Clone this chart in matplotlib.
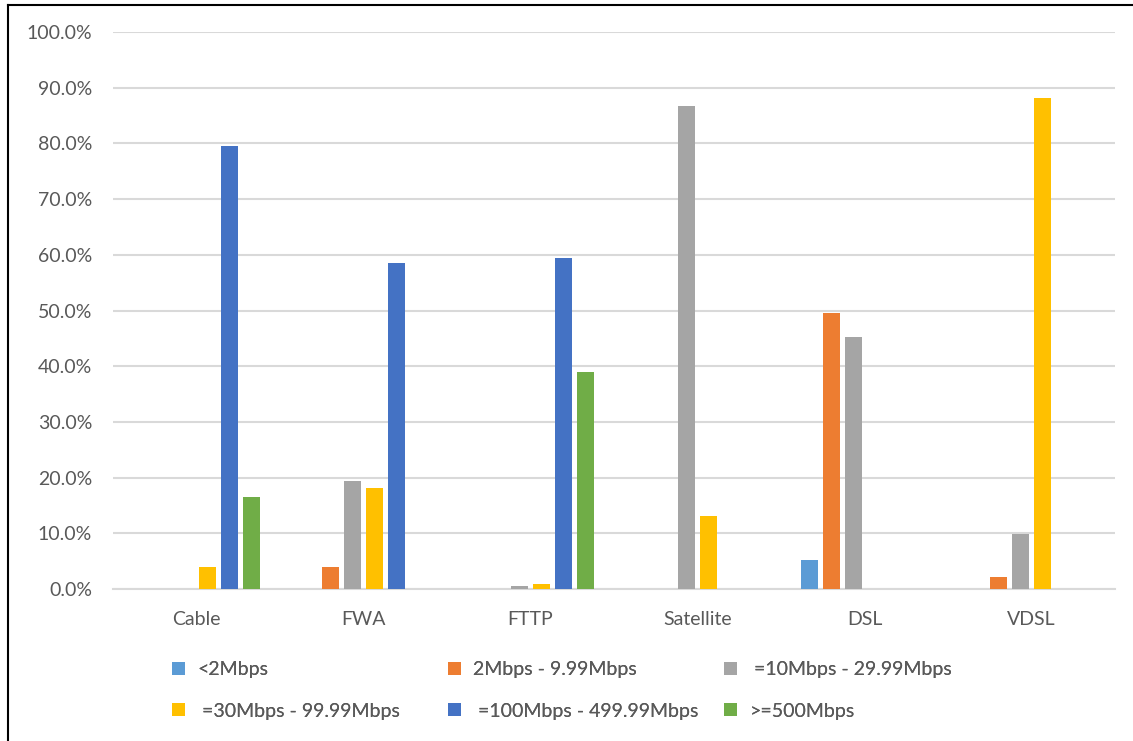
import numpy as np
import matplotlib.pyplot as plt
from matplotlib.lines import Line2D
from matplotlib.patches import Patch

plt.rcParams['font.family'] = ['Lato', 'DejaVu Sans']

technologies = ["Cable", "FWA", "FTTP", "Satellite", "DSL", "VDSL"]
speed_bands = ["<2Mbps", "2Mbps - 9.99Mbps", " =10Mbps - 29.99Mbps",
               " =30Mbps - 99.99Mbps", " =100Mbps - 499.99Mbps", ">=500Mbps"]
band_colors = ["#5B9BD5", "#ED7D31", "#A5A5A5", "#FFC000", "#4472C4", "#70AD47"]

# share of connections per speed band (fractions), one list per band
under_2 = [0.0, 0.0, 0.0, 0.0, 0.052, 0.0]
from_2 = [0.0, 0.039, 0.0, 0.0, 0.496, 0.021]
from_10 = [0.0, 0.194, 0.005, 0.868, 0.452, 0.099]
from_30 = [0.040, 0.181, 0.009, 0.131, 0.0, 0.881]
from_100 = [0.795, 0.585, 0.594, 0.0, 0.0, 0.0]
over_500 = [0.165, 0.0, 0.390, 0.0, 0.0, 0.0]
shares = [under_2, from_2, from_10, from_30, from_100, over_500]

text_color = "#595959"
grid_color = "#D9D9D9"
fs = 14

fig = plt.figure(figsize=(11.33, 7.41), dpi=100)
ax = fig.add_axes([113 / 1133, 152 / 741, 1002 / 1133, 557 / 741])

x = np.arange(len(technologies))
slot = 0.1317
for i, (vals, col, lab) in enumerate(zip(shares, band_colors, speed_bands)):
    ax.bar(x + (i - 2.5) * slot, vals, width=0.104, color=col,
           linewidth=0, label=lab, zorder=3)

ax.set_xlim(-0.5, len(technologies) - 0.5)
ax.set_ylim(0, 1.0)
ax.set_yticks(np.arange(0, 1.01, 0.1))
ax.set_yticklabels([f"{v * 100:.1f}%" for v in np.arange(0, 1.01, 0.1)])
ax.set_xticks(x)
ax.set_xticklabels(technologies)
ax.tick_params(axis='y', length=0, pad=15, labelsize=fs, labelcolor=text_color)
ax.tick_params(axis='x', length=0, pad=16, labelsize=fs, labelcolor=text_color)
ax.grid(axis='y', color=grid_color, linewidth=1.5, zorder=0)
for side in ["left", "right", "top"]:
    ax.spines[side].set_visible(False)
ax.spines["bottom"].set_color(grid_color)
ax.spines["bottom"].set_linewidth(1.5)

# legend laid out in three evenly spaced columns, filled row by row
handles = [Patch(facecolor=c, linewidth=0) for c in band_colors]
col_x = [172, 448, 724]
for c in range(3):
    idx = [c, c + 3]
    leg = fig.legend([handles[k] for k in idx], [speed_bands[k] for k in idx],
                     loc="upper left", bbox_to_anchor=(col_x[c] / 1133, 1 - 661 / 741),
                     frameon=False, fontsize=fs, labelcolor=text_color,
                     handlelength=0.65, handleheight=0.65, handletextpad=0.65,
                     labelspacing=1.27, borderaxespad=0, borderpad=0)
    fig.add_artist(leg)

# frame lines along the top and left edges
fig.add_artist(Line2D([8 / 1133, 1], [1 - 5 / 741, 1 - 5 / 741],
                      transform=fig.transFigure, color="black", linewidth=1.5))
fig.add_artist(Line2D([8 / 1133, 8 / 1133], [0, 1 - 5 / 741],
                      transform=fig.transFigure, color="black", linewidth=1.5))

fig.savefig("out.png", dpi=100)
